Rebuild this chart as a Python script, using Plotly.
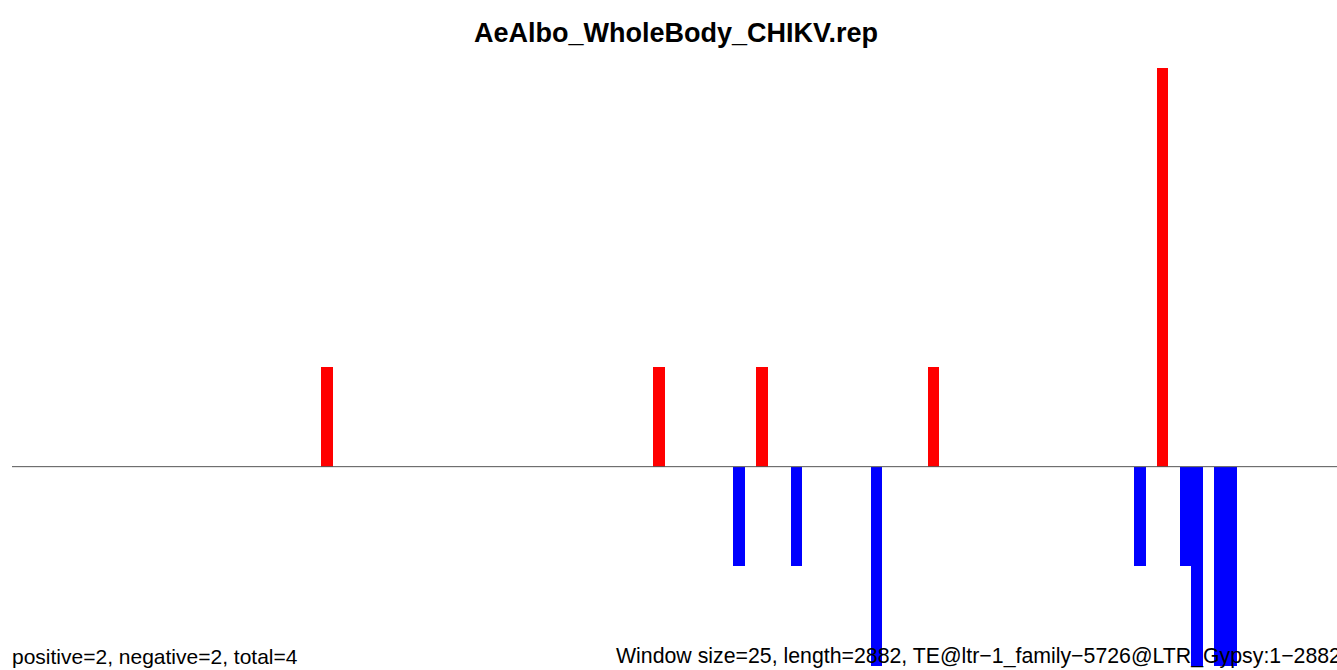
import plotly.graph_objects as go

window_size = 25
seq_length = 2882

pos_windows = [27, 56, 65, 80, 100]
pos_values = [1, 1, 1, 1, 4]

neg_windows = [63, 68, 75, 98, 102, 103, 105, 106]
neg_values = [-1, -1, -2, -1, -1, -2, -2, -2]

title = "AeAlbo_WholeBody_CHIKV.rep"
left_note = "positive=2, negative=2, total=4"
right_note = "Window size=25, length=2882, TE@ltr\u22121_family\u22125726@LTR_Gypsy:1\u22122882"

font = "Liberation Sans, Arial, Helvetica, sans-serif"

W, H = 1337, 670
plot_top, plot_bottom = 68, 666
plot_h = plot_bottom - plot_top

fig = go.Figure()
fig.add_trace(go.Bar(
    x=[w * window_size + window_size / 2 for w in pos_windows],
    y=pos_values, width=window_size,
    marker=dict(color="#ff0000", line=dict(width=0)),
))
fig.add_trace(go.Bar(
    x=[w * window_size + window_size / 2 for w in neg_windows],
    y=neg_values, width=window_size,
    marker=dict(color="#0000ff", line=dict(width=0)),
))

# baseline
fig.add_shape(type="line", xref="paper", yref="y", x0=0, x1=1, y0=0, y1=0,
              line=dict(color="#555555", width=1), layer="above")

note_y = -(H - plot_bottom) / plot_h
fig.add_annotation(text=left_note, xref="paper", yref="paper", x=0, y=note_y,
                   xanchor="left", yanchor="bottom", showarrow=False, xshift=-2,
                   font=dict(family=font, size=21, color="black"))
fig.add_annotation(text=right_note, xref="paper", yref="paper",
                   x=(616 - 12) / (W - 12), y=note_y,
                   xanchor="left", yanchor="bottom", showarrow=False, xshift=-2,
                   font=dict(family=font, size=21.3, color="black"))

fig.update_layout(
    width=W, height=H,
    margin=dict(l=12, r=0, t=plot_top, b=H - plot_bottom),
    plot_bgcolor="white", paper_bgcolor="white",
    barmode="overlay", bargap=0, showlegend=False,
    title=dict(text="<b>" + title + "</b>", x=676 / W, xanchor="center",
               y=1 - 33 / H, yanchor="middle", yref="container",
               font=dict(family=font, size=27, color="black")),
    xaxis=dict(range=[0, 2893], visible=False),
    yaxis=dict(range=[-2, 4], visible=False),
)

# drop the page margin so the figure sits flush with the window
fig.write_html("out.html",
               config={"displayModeBar": False},
               post_script="document.body.style.margin='0';"
                           "document.body.style.overflow='hidden';")
